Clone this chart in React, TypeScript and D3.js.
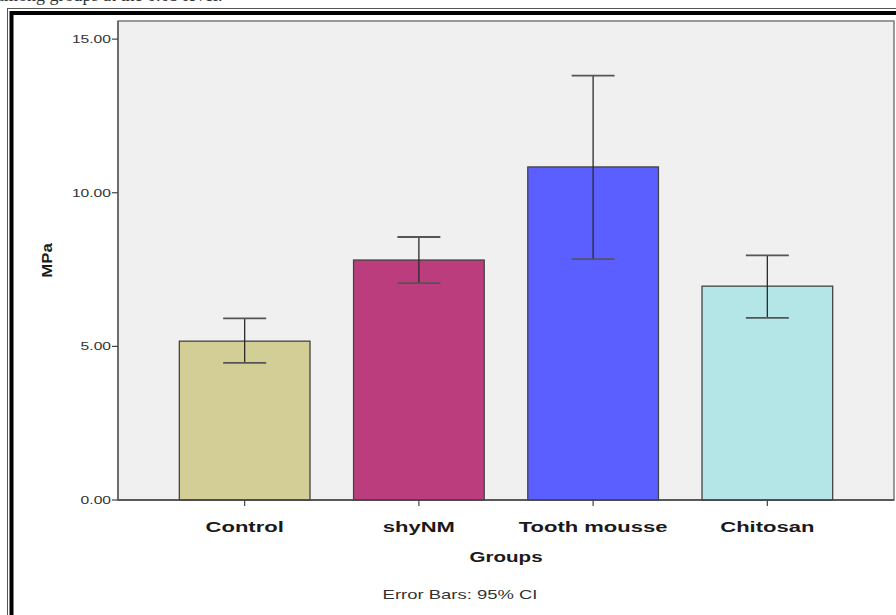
import React from "react";
import * as d3 from "d3";

const categories = ["Control", "shyNM", "Tooth mousse", "Chitosan"];
const means = [5.17, 7.81, 10.84, 6.96];
const ciLow = [4.46, 7.06, 7.84, 5.93];
const ciHigh = [5.91, 8.56, 13.81, 7.96];
const colors = ["#d3cd96", "#bb3d7d", "#5b5fff", "#b4e6e8"];
const yTicks = [0, 5, 10, 15];

const W = 896;
const H = 615;
const plot = { left: 118, right: 894, top: 21, bottom: 500 };
const SX = 1.42; // horizontal stretch of the text in the reference

export default function App() {
  const x = d3
    .scaleBand<string>()
    .domain(categories)
    .range([plot.left, plot.right])
    .paddingInner(0.25)
    .paddingOuter(0.352);
  const y = d3.scaleLinear().domain([0, 15.59]).range([plot.bottom, plot.top]);
  const bw = x.bandwidth();
  const cap = 21.5;
  const font = "Arial, 'Liberation Sans', Helvetica, sans-serif";

  const stretched = (
    key: string,
    px: number,
    py: number,
    content: string,
    props: any
  ) => (
    <g key={key} transform={`translate(${px},${py}) scale(${SX},1)`}>
      <text x={0} y={0} fontFamily={font} {...props}>
        {content}
      </text>
    </g>
  );

  return (
    <div style={{ position: "absolute", left: 0, top: 0 }}>
      <svg width={W} height={H} style={{ display: "block", background: "#fff" }}>
        {/* cut-off caption text at the very top */}
        <text x={-4} y={1} fontFamily="'Liberation Serif', 'Times New Roman', serif" fontSize={18} fill="#333">
          among groups at the 0.05 level.
        </text>
        {/* outer double frame */}
        <rect x={7.5} y={8.5} width={W + 20} height={H + 20} fill="none" stroke="#555" strokeWidth={1} />
        <rect x={11.5} y={13} width={W + 20} height={H + 20} fill="none" stroke="#000" strokeWidth={4} />
        {/* plot background */}
        <rect
          x={plot.left}
          y={plot.top}
          width={plot.right - plot.left}
          height={plot.bottom - plot.top}
          fill="#f0f0f0"
          stroke="#7a7a7a"
          strokeWidth={1.5}
        />
        {/* bars */}
        {categories.map((c, i) => (
          <rect
            key={c}
            x={x(c)!}
            y={y(means[i])}
            width={bw}
            height={y(0) - y(means[i])}
            fill={colors[i]}
            stroke="#444"
            strokeWidth={1.3}
          />
        ))}
        {/* error bars */}
        {categories.map((c, i) => {
          const cx = x(c)! + bw / 2;
          return (
            <g key={c} stroke="#2a2a2a" strokeWidth={1.3}>
              <line x1={cx} x2={cx} y1={y(ciLow[i])} y2={y(ciHigh[i])} />
              <line x1={cx - cap} x2={cx + cap} y1={y(ciHigh[i])} y2={y(ciHigh[i])} stroke="#555" strokeWidth={1.8} />
              <line x1={cx - cap} x2={cx + cap} y1={y(ciLow[i])} y2={y(ciLow[i])} stroke="#555" strokeWidth={1.8} />
            </g>
          );
        })}
        {/* axes */}
        <line x1={plot.left} x2={plot.right} y1={plot.bottom} y2={plot.bottom} stroke="#444" strokeWidth={1.3} />
        <line x1={plot.left} x2={plot.left} y1={plot.top} y2={plot.bottom} stroke="#555" strokeWidth={1.3} />
        {yTicks.map((t) => (
          <g key={t}>
            <line x1={plot.left - 6} x2={plot.left} y1={y(t)} y2={y(t)} stroke="#444" strokeWidth={1.2} />
            {stretched("l" + t, plot.left - 7, y(t), t.toFixed(2), {
              dy: "0.35em",
              textAnchor: "end",
              fontSize: 11,
              fill: "#333",
            })}
          </g>
        ))}
        {categories.map((c) => {
          const cx = x(c)! + bw / 2;
          return (
            <g key={c}>
              <line x1={cx} x2={cx} y1={plot.bottom} y2={plot.bottom + 6} stroke="#444" strokeWidth={1.2} />
              {stretched("c" + c, cx, 532, c, {
                textAnchor: "middle",
                fontSize: 15.5,
                fontWeight: "bold",
                fill: "#1a1a1a",
              })}
            </g>
          );
        })}
        {stretched("groups", (plot.left + plot.right) / 2, 562, "Groups", {
          textAnchor: "middle",
          fontSize: 14.5,
          fontWeight: "bold",
          fill: "#1a1a1a",
        })}
        <text
          x={0}
          y={0}
          transform={`translate(52,${(plot.top + plot.bottom) / 2}) rotate(-90) scale(1.2,1)`}
          textAnchor="middle"
          fontFamily={font}
          fontSize={14}
          fontWeight="bold"
          fill="#1a1a1a"
        >
          MPa
        </text>
        {stretched("eb", 460, 599, "Error Bars: 95% CI", {
          textAnchor: "middle",
          fontSize: 13,
          fill: "#333",
        })}
      </svg>
    </div>
  );
}
